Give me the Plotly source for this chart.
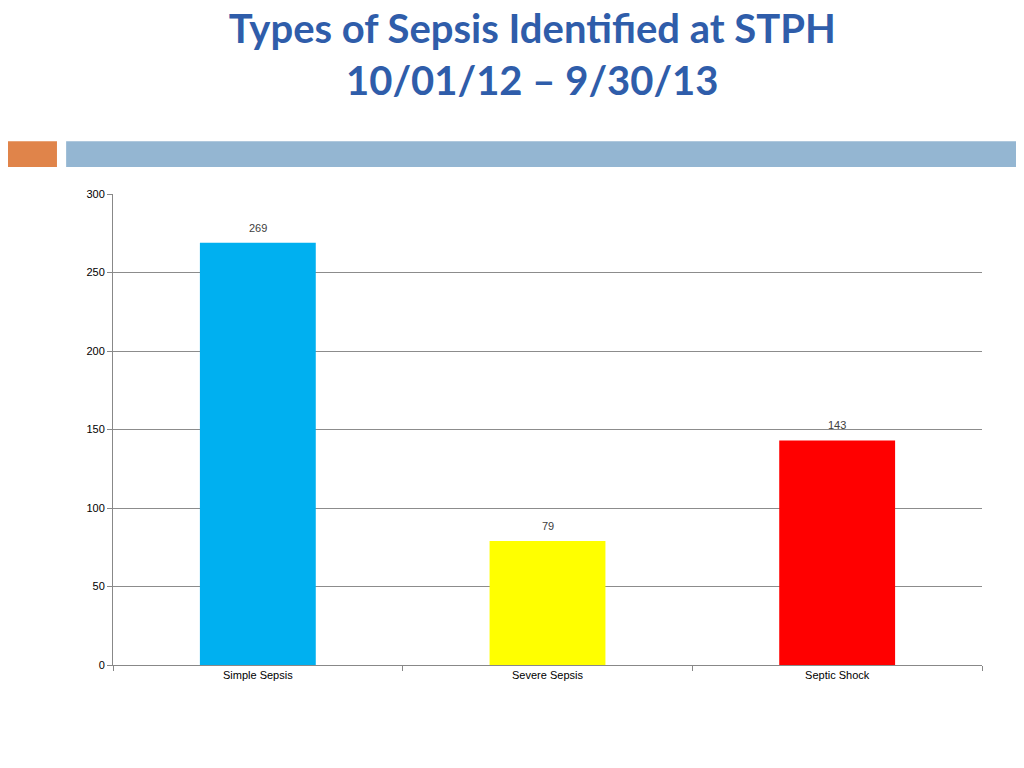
import plotly.graph_objects as go

categories = ['Simple Sepsis', 'Severe Sepsis', 'Septic Shock']
counts = [269, 79, 143]
bar_colors = ['#00B0F0', '#FFFF00', '#FF0000']

fig = go.Figure(go.Bar(
    x=categories, y=counts,
    marker=dict(color=bar_colors, line=dict(width=0)),
    cliponaxis=False,
))

# value labels, a little above each bar
for cat, val in zip(categories, counts):
    fig.add_annotation(x=cat, y=val, text=str(val), showarrow=False, yanchor='bottom',
                       yshift=7, font=dict(size=11, color='#404040', family='Liberation Sans'))

# header decoration strips (paper coords relative to plot area 105..958 x, 186..641 y)
L, W, T, H = 105, 853, 186, 455
def px_x(v):
    return (v - L) / W
def px_y(v):
    return (T + H - v) / H
fig.add_shape(type='rect', xref='paper', yref='paper', x0=px_x(-8), x1=px_x(50),
              y0=px_y(160), y1=px_y(135), fillcolor='#E0844A', line=dict(width=0), layer='below')
fig.add_shape(type='rect', xref='paper', yref='paper', x0=px_x(59), x1=px_x(1030),
              y0=px_y(160), y1=px_y(135), fillcolor='#94B6D2', line=dict(width=0), layer='below')

fig.update_layout(
    width=1024, height=768,
    margin=dict(l=L, r=1024 - 16 - L - W, t=T, b=768 - 16 - T - H),
    paper_bgcolor='white', plot_bgcolor='white',
    bargap=0.6, showlegend=False,
    title=dict(text='Types of Sepsis Identified at STPH<br>10/01/12 \u2013 9/30/13',
               x=0.512, xanchor='center', y=0.955, yanchor='top',
               font=dict(family='Lato', size=40, color='#2F5DAA', weight='bold')),
    font=dict(family='Liberation Sans', size=11, color='#000000'),
    xaxis=dict(tickson='boundaries', ticks='outside', ticklen=5, tickcolor='#888888',
               showline=True, linecolor='#888888', showgrid=False,
               tickfont=dict(size=11)),
    yaxis=dict(range=[0, 300], dtick=50, ticks='outside', ticklen=5, tickcolor='#888888',
               showline=True, linecolor='#888888', gridcolor='#8c8c8c',
               tickfont=dict(size=11), zeroline=False),
)

fig.write_html('out.html')
